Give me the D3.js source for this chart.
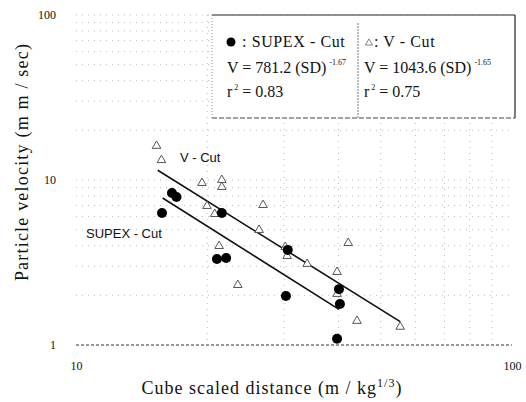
<!DOCTYPE html>
<html><head><meta charset="utf-8">
<script src="https://cdn.jsdelivr.net/npm/d3@7"></script>
<style>
body{margin:0;background:#fff;}
svg{display:block;}
</style></head>
<body>
<svg id="c" width="526" height="402"></svg>
<script>
// Data (scaled distance m/kg^(1/3), particle velocity mm/sec)
const supexSD = [15.75, 16.6, 17.0, 21.6, 21.05, 22.1, 30.6, 30.3, 40.1, 40.3, 39.7];
const supexV  = [6.31, 8.34, 7.89, 6.31, 3.32, 3.37, 3.77, 1.98, 2.18, 1.77, 1.09];
const vcutSD = [15.3, 15.7, 19.45, 21.6, 21.6, 19.97, 20.8, 26.85, 26.3, 21.3, 23.5, 30.2, 30.5, 33.9, 42.1, 39.7, 39.7, 44.1, 55.4];
const vcutV  = [16.1, 13.2, 9.59, 10.0, 9.07, 6.96, 6.22, 7.05, 4.98, 3.98, 2.31, 3.93, 3.46, 3.1, 4.15, 2.77, 2.04, 1.40, 1.29];
// Regression fits from the legend: V = k * SD^b, drawn over the SD range shown
const supexFit = {k: 781.2, b: -1.67, from: 15.8, to: 40.1};
const vcutFit  = {k: 1043.6, b: -1.65, from: 15.4, to: 55.4};
const xTicks = [10, 100];
const yTicks = [1, 10, 100];

const svg = d3.select("#c");
const x = d3.scaleLog().domain([10, 100]).range([76, 512]);
const y = d3.scaleLog().domain([1, 100]).range([345, 15]);

// grid
const xMinor = [];
for (let d = 20; d <= 90; d += 10) xMinor.push(d);
const yMinor = [];
[1, 10].forEach(m => { for (let i = 2; i <= 9; i++) yMinor.push(i * m); });
const grid = svg.append("g");
grid.selectAll(".vx").data(xMinor).join("line")
  .attr("x1", d => x(d)).attr("x2", d => x(d)).attr("y1", y(100)).attr("y2", y(1))
  .attr("stroke", "#aaa").attr("stroke-width", 0.8).attr("stroke-dasharray", "1,5");
grid.selectAll(".hy").data(yMinor.concat([10, 100])).join("line")
  .attr("x1", x(10)).attr("x2", x(100)).attr("y1", d => y(d)).attr("y2", d => y(d))
  .attr("stroke", "#aaa").attr("stroke-width", 0.8).attr("stroke-dasharray", "1,5");
// baseline (dashed)
svg.append("line").attr("x1", x(10)).attr("x2", x(100)).attr("y1", y(1)).attr("y2", y(1))
  .attr("stroke", "#333").attr("stroke-width", 1).attr("stroke-dasharray", "3,2");

// axes
const fmt = d3.format("d");
const ax = svg.append("g").attr("transform", `translate(0,${y(1)})`)
  .call(d3.axisBottom(x).tickValues(xTicks).tickFormat(fmt).tickSize(0).tickPadding(16));
ax.select(".domain").remove();
ax.selectAll("text").attr("font-family", "Liberation Serif, serif").attr("font-size", 12).attr("fill", "#111");
const ay = svg.append("g").attr("transform", `translate(${x(10)},0)`)
  .call(d3.axisLeft(y).tickValues(yTicks).tickFormat(fmt).tickSize(0).tickPadding(20));
ay.select(".domain").remove();
ay.selectAll("text").attr("font-family", "Liberation Serif, serif").attr("font-size", 12).attr("fill", "#111");

// axis titles
svg.append("text").attr("x", 272).attr("y", 394).attr("text-anchor", "middle")
  .attr("font-family", "Liberation Serif, serif").attr("font-size", 18).attr("letter-spacing", 1)
  .attr("fill", "#111")
  .html('Cube scaled distance (m / kg<tspan font-size="12" dy="-7">1/3</tspan><tspan dy="7">)</tspan>');
svg.append("text").attr("transform", "translate(28,162) rotate(-90)").attr("text-anchor", "middle")
  .attr("font-family", "Liberation Serif, serif").attr("font-size", 18).attr("letter-spacing", 1.2)
  .attr("fill", "#111").text("Particle velocity (m m / sec)");

// fit lines
function fitLine(f) {
  const pts = [f.from, f.to].map(s => [x(s), y(f.k * Math.pow(s, f.b))]);
  svg.append("line").attr("x1", pts[0][0]).attr("y1", pts[0][1]).attr("x2", pts[1][0]).attr("y2", pts[1][1])
    .attr("stroke", "#111").attr("stroke-width", 1.6);
}
fitLine(vcutFit);
fitLine(supexFit);

// V-cut triangles
const tri = d3.symbol().type(d3.symbolTriangle).size(32);
svg.selectAll(".tri").data(vcutSD.map((s, i) => [s, vcutV[i]])).join("path")
  .attr("d", tri).attr("transform", d => `translate(${x(d[0])},${y(d[1])})`)
  .attr("fill", "#fff").attr("stroke", "#444").attr("stroke-width", 0.9);
// SUPEX circles
svg.selectAll(".cir").data(supexSD.map((s, i) => [s, supexV[i]])).join("circle")
  .attr("cx", d => x(d[0])).attr("cy", d => y(d[1])).attr("r", 5).attr("fill", "#000");

// in-plot labels
svg.append("text").attr("x", 180).attr("y", 162).attr("font-family", "Liberation Sans, Arial, sans-serif")
  .attr("font-size", 13).attr("fill", "#111").text("V - Cut");
svg.append("text").attr("x", 86).attr("y", 238).attr("font-family", "Liberation Sans Narrow, Liberation Sans, sans-serif")
  .attr("font-size", 13).attr("fill", "#111").text("SUPEX - Cut");

// legend box
const L = {x0: 212, x1: 515, y0: 15, y1: 118, mid: 358};
svg.append("rect").attr("x", L.x0).attr("y", L.y0).attr("width", L.x1 - L.x0).attr("height", L.y1 - L.y0)
  .attr("fill", "#fff").attr("stroke", "none");
svg.append("line").attr("x1", L.x0).attr("x2", L.x1).attr("y1", L.y0).attr("y2", L.y0).attr("stroke", "#222").attr("stroke-width", 1.2);
svg.append("line").attr("x1", L.x1).attr("x2", L.x1).attr("y1", L.y0).attr("y2", L.y1).attr("stroke", "#222").attr("stroke-width", 1.2);
svg.append("line").attr("x1", L.x0).attr("x2", L.x1).attr("y1", L.y1).attr("y2", L.y1).attr("stroke", "#444").attr("stroke-width", 1).attr("stroke-dasharray", "5,2");
svg.append("line").attr("x1", L.x0).attr("x2", L.x0).attr("y1", L.y0).attr("y2", L.y1).attr("stroke", "#777").attr("stroke-width", 0.8).attr("stroke-dasharray", "1,2");
svg.append("line").attr("x1", L.mid).attr("x2", L.mid).attr("y1", L.y0 + 8).attr("y2", L.y1).attr("stroke", "#555").attr("stroke-width", 0.8).attr("stroke-dasharray", "2,1");

const lf = "Liberation Serif, serif";
svg.append("circle").attr("cx", 231).attr("cy", 42).attr("r", 4.5).attr("fill", "#000");
svg.append("text").attr("x", 242).attr("y", 47).attr("font-family", lf).attr("font-size", 16).attr("letter-spacing", 0.6).attr("fill", "#111").text(": SUPEX - Cut");
svg.append("text").attr("x", 227).attr("y", 73).attr("font-family", lf).attr("font-size", 16).attr("fill", "#111")
  .html('V = 781.2 (SD)<tspan font-size="8" dx="3" dy="-8">-1.67</tspan>');
svg.append("text").attr("x", 227).attr("y", 97).attr("font-family", lf).attr("font-size", 16).attr("fill", "#111")
  .html('r<tspan font-size="8" dx="2" dy="-7">2</tspan><tspan dy="7"> = 0.83</tspan>');

svg.append("path").attr("d", d3.symbol().type(d3.symbolTriangle).size(22)).attr("transform", "translate(369,43)")
  .attr("fill", "none").attr("stroke", "#666").attr("stroke-width", 0.8);
svg.append("text").attr("x", 374).attr("y", 47).attr("font-family", lf).attr("font-size", 16).attr("letter-spacing", 0.6).attr("fill", "#111").text(": V - Cut");
svg.append("text").attr("x", 364).attr("y", 73).attr("font-family", lf).attr("font-size", 16).attr("fill", "#111")
  .html('V = 1043.6 (SD)<tspan font-size="8" dx="3" dy="-8">-1.65</tspan>');
svg.append("text").attr("x", 364).attr("y", 97).attr("font-family", lf).attr("font-size", 16).attr("fill", "#111")
  .html('r<tspan font-size="8" dx="2" dy="-7">2</tspan><tspan dy="7"> = 0.75</tspan>');
</script>
</body></html>
